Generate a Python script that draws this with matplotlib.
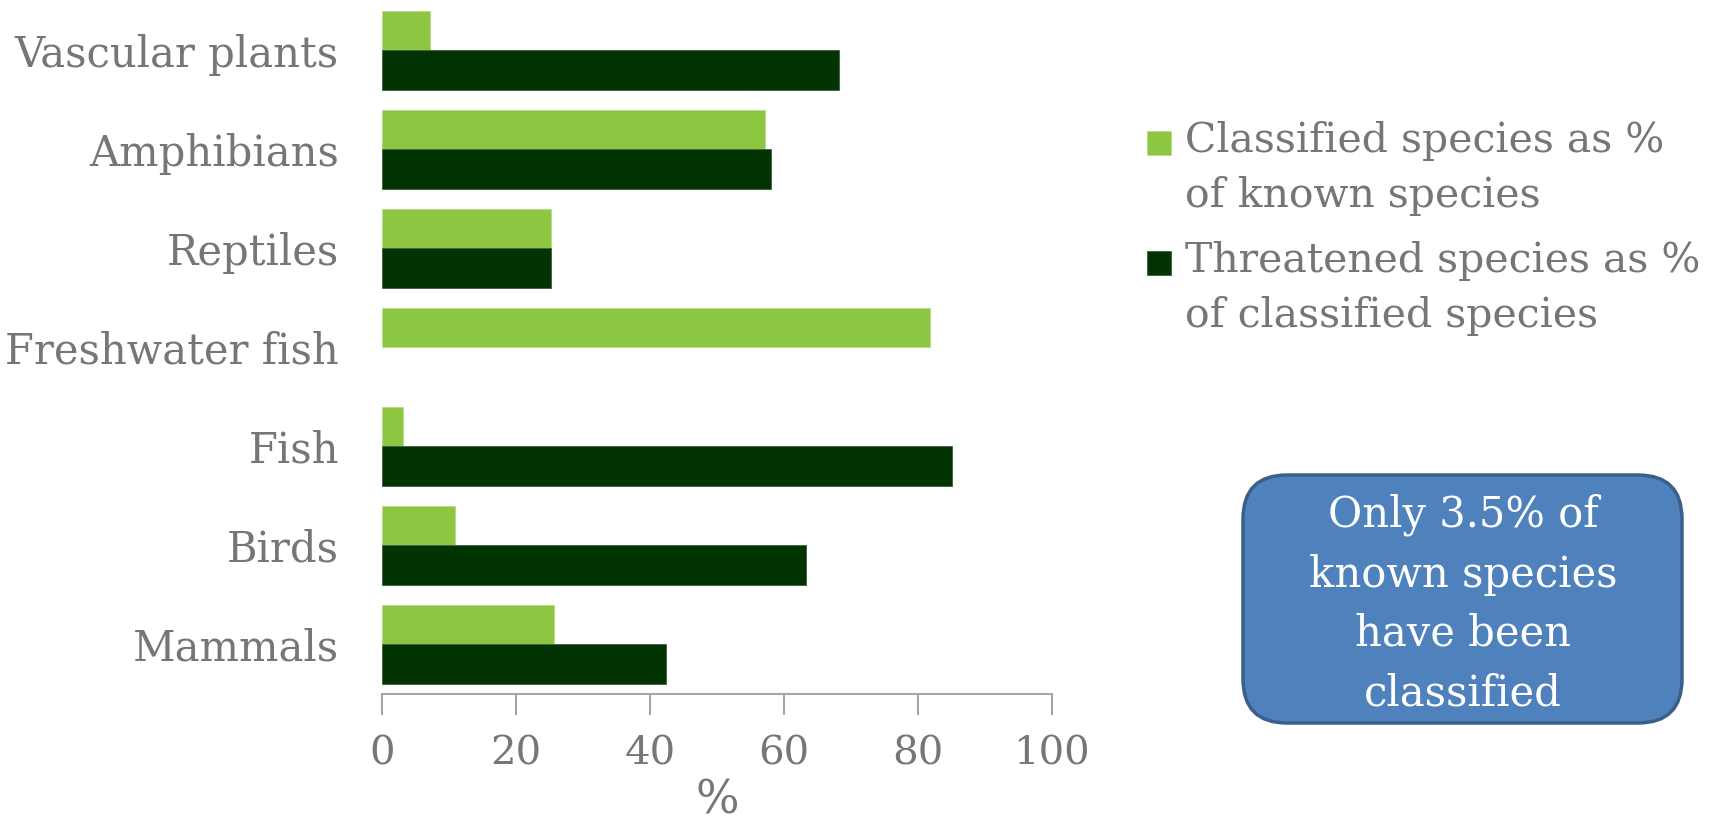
import numpy as np
import matplotlib.pyplot as plt
from matplotlib.patches import FancyBboxPatch, Rectangle
from matplotlib.transforms import IdentityTransform

# data (top to bottom)
categories = ['Vascular plants', 'Amphibians', 'Reptiles', 'Freshwater fish',
              'Fish', 'Birds', 'Mammals']
classified_pct = [7.2, 57.2, 25.3, 81.8, 3.2, 10.9, 25.7]
threatened_pct = [68.2, 58.1, 25.3, np.nan, 85.1, 63.3, 42.4]
series_names = ['Classified species as %\nof known species',
                'Threatened species as %\nof classified species']
xticks = [0, 20, 40, 60, 80, 100]

light_green = '#8DC641'
dark_green = '#023302'
grey_text = '#767676'
grey_axis = '#A6A6A6'

plt.rcParams['font.family'] = ['DejaVu Serif']

fig = plt.figure(figsize=(17.13, 8.26), dpi=100)
ax = fig.add_axes([0.223, 0.160, 0.391, 0.839])

y = np.arange(len(categories))
h = 0.4
ax.barh(y - h / 2, classified_pct, height=h, color=light_green,
        edgecolor='#B5DC85', linewidth=0.6)
ax.barh(y + h / 2, threatened_pct, height=h, color=dark_green,
        edgecolor='#3F5F3F', linewidth=0.6)

ax.set_xlim(0, 100)
ax.set_ylim(len(categories) - 0.5, -0.5)
ax.set_xticks(xticks)
ax.set_yticks(y)
ax.set_yticklabels(categories)

for s in ['top', 'right', 'left']:
    ax.spines[s].set_visible(False)
ax.spines['bottom'].set_color(grey_axis)
ax.spines['bottom'].set_linewidth(1.5)
ax.tick_params(axis='y', length=0, pad=31, labelsize=30, labelcolor=grey_text)
ax.tick_params(axis='x', length=15, width=1.5, color=grey_axis, pad=15,
               labelsize=29, labelcolor=grey_text)
ax.set_xlabel('%', fontsize=33, color=grey_text, labelpad=4)

# legend, square aligned with the first line of each label
legend_tops = [142, 262]   # pixel centre of first text line, from top
for name, col, ec, ty in zip(series_names, [light_green, dark_green],
                             ['#B5DC85', '#3F5F3F'], legend_tops):
    fig.patches.append(Rectangle((1147, 826 - ty - 13), 24, 24,
                                 transform=IdentityTransform(),
                                 facecolor=col, edgecolor=ec, linewidth=0.6))
    fig.text(1185 / 1713, (826 - ty + 21) / 826, name, ha='left', va='top',
             color=grey_text, fontsize=29.5, linespacing=1.47)

# callout box
box = FancyBboxPatch((1243, 103), 439, 248, boxstyle='round,pad=0,rounding_size=44',
                     transform=IdentityTransform(), facecolor='#4F81BD',
                     edgecolor='#3A5F8B', linewidth=2.5)
fig.patches.append(box)
fig.text(1463 / 1713, 222 / 826, 'Only 3.5% of\nknown species\nhave been\nclassified',
         ha='center', va='center', color='white', fontsize=30, linespacing=1.53)

fig.savefig('out.png', dpi=100)
